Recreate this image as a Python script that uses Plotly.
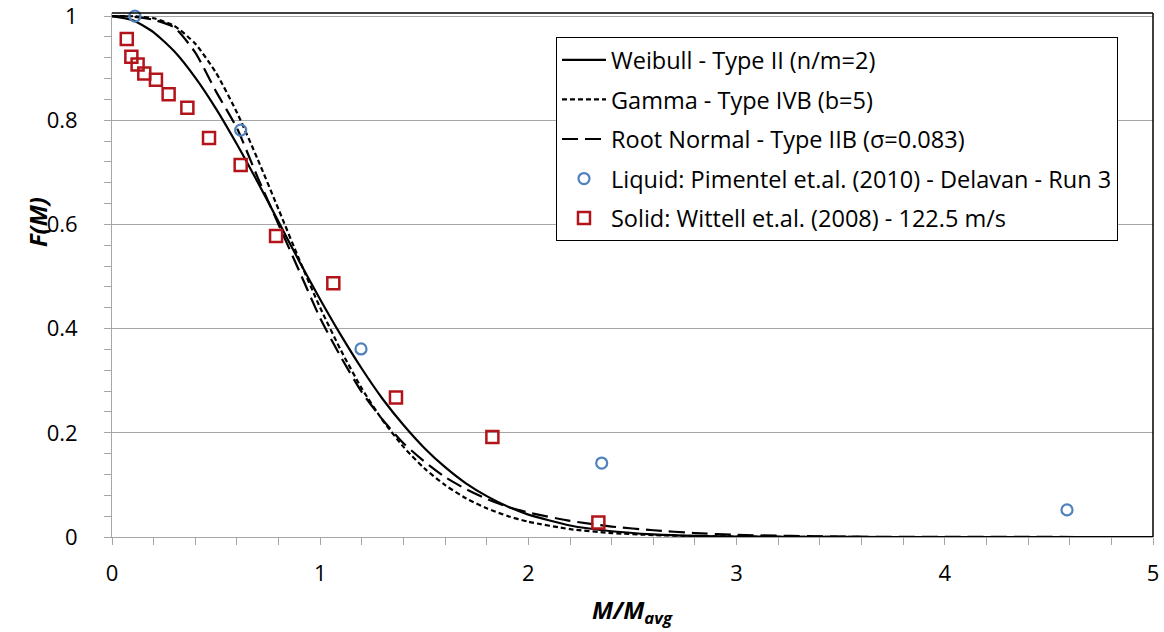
import plotly.graph_objects as go

# Normalised mass M/M_avg at which the model curves are tabulated
m_model = [0.0, 0.1, 0.2, 0.3, 0.4, 0.5, 0.6, 0.7, 0.8, 0.9, 1.0,
           1.1, 1.2, 1.3, 1.4, 1.5, 1.6, 1.7, 1.8, 1.9, 2.0,
           2.2, 2.4, 2.6, 2.8, 3.0, 3.5, 4.0, 5.0]

weibull_f = [1.0, 0.992, 0.969, 0.932, 0.882, 0.822, 0.754, 0.681, 0.605, 0.529, 0.456,
             0.387, 0.323, 0.265, 0.215, 0.171, 0.134, 0.103, 0.0785, 0.0587, 0.043,
             0.022, 0.011, 0.005, 0.002, 0.001, 0.0001, 0.0, 0.0]

gamma_f = [1.0, 0.9998, 0.996, 0.981, 0.947, 0.891, 0.815, 0.725, 0.629, 0.532, 0.440,
           0.358, 0.285, 0.224, 0.173, 0.132, 0.0996, 0.0744, 0.055, 0.0403, 0.0293,
           0.0151, 0.0076, 0.0037, 0.0018, 0.0009, 0.0001, 0.0, 0.0]

root_normal_f = [1.0, 0.999, 0.993, 0.978, 0.930, 0.855, 0.785, 0.690, 0.600, 0.510, 0.420,
                 0.345, 0.278, 0.225, 0.180, 0.145, 0.115, 0.092, 0.073, 0.058, 0.047,
                 0.031, 0.020, 0.013, 0.0075, 0.004, 0.0008, 0.0002, 0.0]

# Liquid fragmentation data (Pimentel et al., 2010)
liquid_m = [0.11, 0.618, 1.196, 2.352, 4.587]
liquid_f = [1.0, 0.781, 0.361, 0.142, 0.052]

# Solid fragmentation data (Wittell et al., 2008)
solid_m = [0.071, 0.093, 0.123, 0.155, 0.211, 0.272, 0.362, 0.466, 0.618,
           0.788, 1.063, 1.364, 1.827, 2.336]
solid_f = [0.956, 0.922, 0.907, 0.890, 0.878, 0.850, 0.824, 0.766, 0.714,
           0.578, 0.487, 0.268, 0.192, 0.028]

x_ticks = [0, 1, 2, 3, 4, 5]
y_ticks = [0, 0.2, 0.4, 0.6, 0.8, 1.0]
y_tick_text = ["0", "0.2", "0.4", "0.6", "0.8", "1"]

FONT = "'Open Sans', Lato, sans-serif"
GRID = "#a6a6a6"

fig = go.Figure()

fig.add_trace(go.Scatter(
    x=m_model, y=weibull_f, mode="lines", name="Weibull - Type II (n/m=2)",
    line=dict(color="black", width=2.2, shape="spline", smoothing=0.6),
    legendgroup="a"))
fig.add_trace(go.Scatter(
    x=m_model, y=gamma_f, mode="lines", name="Gamma - Type IVB (b=5)",
    line=dict(color="black", width=2.2, dash="5px,3px", shape="spline", smoothing=0.6),
    legendgroup="b"))
fig.add_trace(go.Scatter(
    x=m_model, y=root_normal_f, mode="lines", name="Root Normal - Type IIB (σ=0.083)",
    line=dict(color="black", width=2.2, dash="16px,7px", shape="spline", smoothing=0.6),
    legendgroup="c"))
fig.add_trace(go.Scatter(
    x=liquid_m, y=liquid_f, mode="markers", cliponaxis=False,
    name="Liquid: Pimentel et.al. (2010) - Delavan - Run 3",
    marker=dict(symbol="circle-open", size=11, color="#4F81BD", line=dict(width=2.2)),
    legendgroup="d"))
fig.add_trace(go.Scatter(
    x=solid_m, y=solid_f, mode="markers", cliponaxis=False,
    name="Solid: Wittell et.al. (2008) - 122.5 m/s",
    marker=dict(symbol="square-open", size=12, color="#B3141A", line=dict(width=2.5)),
    legendgroup="e"))

fig.update_layout(
    width=1164, height=632,
    margin=dict(l=112, r=11, t=13, b=95),
    paper_bgcolor="white", plot_bgcolor="white",
    font=dict(family=FONT, size=22, color="black"),
    showlegend=True,
    legend=dict(
        x=0.4265, y=0.954, xanchor="left", yanchor="top",
        bgcolor="white", bordercolor="black", borderwidth=1,
        font=dict(family=FONT, size=23.5, color="black"),
        tracegroupgap=6, itemwidth=44,
    ),
    xaxis=dict(
        range=[0, 5], tickvals=x_ticks, ticktext=[str(v) for v in x_ticks],
        automargin=False, ticklabeloverflow="allow",
        showgrid=False, zeroline=False,
        showline=True, linecolor=GRID, linewidth=1,
        ticks="outside", ticklen=7, tickcolor=GRID, ticklabelstandoff=10,
        minor=dict(dtick=0.2, ticks="outside", ticklen=7, tickcolor=GRID, showgrid=False),
        tickfont=dict(family=FONT, size=22, color="black"),
    ),
    yaxis=dict(
        range=[0, 1.006], tickvals=y_ticks, ticktext=y_tick_text,
        automargin=False, ticklabeloverflow="allow",
        showgrid=True, gridcolor=GRID, gridwidth=1, zeroline=False,
        showline=True, linecolor=GRID, linewidth=1,
        ticks="outside", ticklen=7, tickcolor=GRID, ticklabelstandoff=22,
        minor=dict(dtick=0.04, ticks="outside", ticklen=7, tickcolor=GRID, showgrid=False),
        tickfont=dict(family=FONT, size=22, color="black"),
    ),
)

# Black plot-area frame on the top and right sides
fig.add_shape(type="line", xref="paper", yref="paper", x0=0, x1=1, y0=1, y1=1,
              line=dict(color="black", width=1.5))
fig.add_shape(type="line", xref="paper", yref="paper", x0=1, x1=1, y0=0, y1=1,
              line=dict(color="black", width=1.5))

# Axis titles
fig.add_annotation(text="<b><i>M/M<sub>avg</sub></i></b>", xref="paper", yref="paper",
                   x=0.5, y=-0.141, xanchor="center", yanchor="middle", showarrow=False,
                   font=dict(family=FONT, size=24, color="black"))
fig.add_annotation(text="<b><i>F(M)</i></b>", xref="paper", yref="paper",
                   x=-0.072, y=0.601, xanchor="center", yanchor="middle", showarrow=False,
                   textangle=-90, font=dict(family=FONT, size=24, color="black"))

# Page body without default margin so the figure sits at the window origin
fig.write_html("out.html", post_script="document.body.style.margin='0';")
